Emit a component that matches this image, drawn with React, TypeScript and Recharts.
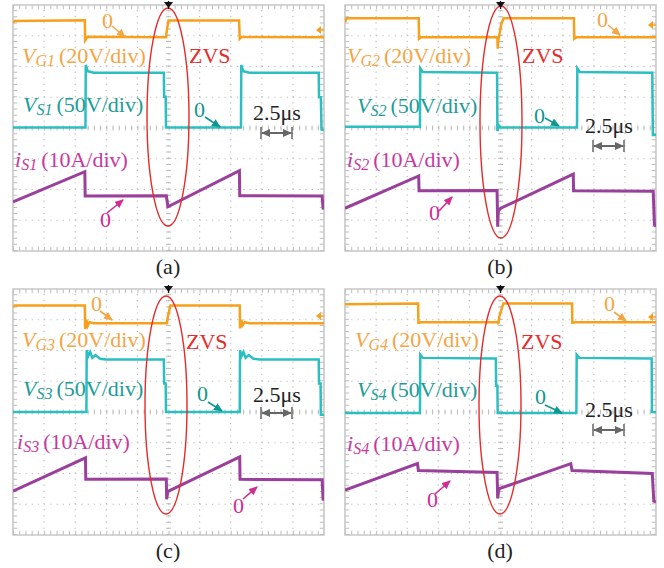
import { LineChart, Line, XAxis, YAxis, ReferenceLine, ReferenceArea } from 'recharts';

// waveform vertices, [time (div), level (div)]
const vG1 = [[0, 7.42], [0.05, 7.48], [2.31, 7.5], [2.32, 6.85], [2.4, 6.97], [4.92, 6.95], [4.95, 7.2], [5.0, 7.5], [7.27, 7.5], [7.29, 6.9], [7.35, 6.96], [10, 6.95]];
const vS1 = [[0, 4.02], [2.33, 4.02], [2.34, 6.05], [2.4, 5.85], [2.6, 5.8], [4.85, 5.8], [4.86, 5.02], [4.91, 5.02], [4.92, 4.02], [7.33, 4.02], [7.34, 6.05], [7.4, 5.85], [7.6, 5.8], [9.83, 5.8], [9.84, 5.0], [9.9, 5.0], [9.92, 3.95], [10, 3.93]];
const iS1 = [[0, 1.6], [2.31, 2.58], [2.32, 1.79], [4.93, 1.8], [4.95, 1.66], [4.98, 1.44], [7.28, 2.61], [7.29, 1.8], [9.94, 1.79], [9.97, 1.39], [10, 1.38]];

const vG2 = [[0, 7.45], [0.05, 7.57], [2.37, 7.57], [2.38, 6.9], [2.45, 6.95], [4.9, 6.95], [4.91, 6.58], [4.93, 6.85], [5.03, 7.4], [5.1, 7.57], [7.36, 7.57], [7.37, 6.9], [7.45, 6.95], [10, 6.95]];
const vS2 = [[0, 4.04], [2.41, 4.04], [2.42, 5.94], [2.5, 5.82], [4.89, 5.8], [4.9, 3.9], [4.95, 4.08], [5.0, 4.02], [7.46, 4.02], [7.47, 5.94], [7.55, 5.82], [9.88, 5.8], [9.9, 3.77], [10, 3.77]];
const iS2 = [[0, 1.39], [2.37, 2.44], [2.38, 1.96], [4.89, 1.97], [4.91, 0.79], [4.93, 1.3], [5.01, 1.39], [7.34, 2.5], [7.35, 1.96], [9.91, 1.94], [9.95, 0.85], [10, 0.8]];

const vG3 = [[0, 7.42], [0.05, 7.46], [2.31, 7.46], [2.32, 6.7], [2.36, 7.0], [2.4, 6.8], [2.46, 6.92], [2.6, 6.89], [4.95, 6.89], [4.98, 7.1], [5.06, 7.46], [7.29, 7.46], [7.3, 6.72], [7.34, 7.0], [7.38, 6.82], [7.45, 6.92], [7.6, 6.89], [10, 6.89]];
const vS3 = [[0, 4.0], [2.36, 4.0], [2.37, 6.01], [2.42, 5.82], [2.48, 5.95], [2.55, 5.76], [2.65, 5.85], [2.8, 5.73], [3.0, 5.71], [4.85, 5.71], [4.86, 4.93], [4.91, 4.93], [4.92, 4.0], [7.29, 4.0], [7.3, 6.01], [7.35, 5.82], [7.41, 5.95], [7.48, 5.76], [7.58, 5.85], [7.73, 5.73], [7.93, 5.71], [9.83, 5.71], [9.84, 4.93], [9.89, 4.93], [9.9, 3.91], [10, 3.91]];
const iS3 = [[0, 1.43], [2.33, 2.51], [2.34, 1.81], [4.93, 1.82], [4.94, 1.16], [4.97, 1.35], [5.0, 1.43], [7.29, 2.54], [7.3, 1.81], [9.94, 1.8], [9.97, 1.16], [10, 1.15]];

const vG4 = [[0, 7.5], [2.35, 7.53], [2.36, 6.9], [2.45, 6.92], [4.91, 6.92], [4.93, 6.86], [4.96, 7.1], [5.09, 7.53], [7.3, 7.53], [7.31, 6.9], [7.4, 6.92], [10, 6.92]];
const vS4 = [[0, 3.97], [2.41, 3.97], [2.42, 5.86], [2.5, 5.76], [4.85, 5.74], [4.86, 4.85], [4.9, 4.85], [4.91, 3.97], [7.44, 3.97], [7.45, 5.86], [7.53, 5.76], [9.86, 5.74], [9.87, 4.0], [10, 3.99]];
const iS4 = [[0, 1.46], [2.33, 2.32], [2.36, 2.1], [4.89, 2.03], [4.91, 1.19], [4.94, 1.45], [4.97, 1.51], [7.26, 2.32], [7.3, 2.1], [9.88, 2.0], [9.93, 1.1], [10, 1.08]];

const gridX = [1, 2, 3, 4, 5, 6, 7, 8, 9];
const gridY = [1, 2, 3, 4, 5, 6, 7];

const FONT = '"Liberation Serif", "Times New Roman", serif';
const ORANGE = '#f7a01c';
const ORANGE_TX = '#f5a544';
const CYAN = '#2bbfc1';
const TEAL_TX = '#1e9c98';
const TEAL_AR = '#10968f';
const PURPLE = '#9a3f9c';
const MAG_TX = '#c8399f';
const MAG_AR = '#d02c92';
const RED = '#e62b2b';
const GRID = '#bdbdbd';

const toPts = (a: number[][]) => a.map(([t, v]) => ({ t, v }));

type Ann = {
  o0: [number, number]; oAr: number[];
  vg: [number, number]; zvs: [number, number]; vs: [number, number];
  t0: [number, number]; tAr: number[];
  us: [number, number]; dbl: [number, number, number];
  is: [number, number];
  m0: [number, number]; mAr: number[];
  ell: number[]; mark: number;
};

const panels = [
  { key: 'a', n: '1', left: 0, top: 0, vg: vG1, vs: vS1, is: iS1,
    ann: { o0: [102, 28], oAr: [112, 26, 125, 37], vg: [22, 63], zvs: [189, 63], vs: [23, 112], t0: [194, 117], tAr: [205, 117, 220, 127],
      us: [253, 120], dbl: [261, 292, 133], is: [15, 167], m0: [100, 227], mAr: [107, 213, 123, 200], ell: [168, 117, 21, 109], mark: 30 } },
  { key: 'b', n: '2', left: 332, top: 0, vg: vG2, vs: vS2, is: iS2,
    ann: { o0: [265, 27], oAr: [276, 25, 288, 35], vg: [15, 63], zvs: [190, 63], vs: [25, 113], t0: [202, 123], tAr: [213, 118, 227, 126],
      us: [253, 133], dbl: [261, 292, 146], is: [15, 167], m0: [97, 220], mAr: [107, 211, 120, 197], ell: [169, 122, 21, 116], mark: 25 } },
  { key: 'c', n: '3', left: 0, top: 284, vg: vG3, vs: vS3, is: iS3,
    ann: { o0: [91, 27], oAr: [100, 27, 112, 36], vg: [22, 63], zvs: [186, 65], vs: [23, 112], t0: [197, 117], tAr: [208, 118, 222, 127],
      us: [253, 118], dbl: [261, 292, 129], is: [17, 165], m0: [233, 229], mAr: [243, 215, 257, 203], ell: [166, 121, 21, 109], mark: 32 } },
  { key: 'd', n: '4', left: 332, top: 284, vg: vG4, vs: vS4, is: iS4,
    ann: { o0: [272, 27], oAr: [282, 28, 294, 37], vg: [23, 63], zvs: [189, 65], vs: [25, 113], t0: [203, 120], tAr: [213, 121, 230, 129],
      us: [253, 133], dbl: [261, 292, 146], is: [15, 167], m0: [95, 223], mAr: [103, 210, 118, 197], ell: [168, 121, 21, 109], mark: 33 } },
];

function Label({ x, y, color, main, sub, rest }: { x: number; y: number; color: string; main: string; sub: string; rest: string }) {
  return (
    <text x={x} y={y} fontFamily={FONT} fontSize={22} fill={color}>
      <tspan fontStyle="italic">{main}</tspan>
      <tspan fontStyle="italic" fontSize={16} dy={3}>{sub}</tspan>
      <tspan dy={-3} dx={4}>{rest}</tspan>
    </text>
  );
}

function Notes({ id, n, a }: { id: string; n: string; a: Ann }) {
  const mk = (c: string) => `url(#ah-${id}-${c.slice(1)})`;
  const heads = [ORANGE_TX, TEAL_AR, MAG_AR, '#666666'];
  return (
    <svg width={332} height={284} style={{ position: 'absolute', left: 0, top: 0, pointerEvents: 'none' }}>
      <defs>
        {heads.map(c => (
          <marker key={c} id={`ah-${id}-${c.slice(1)}`} markerUnits="userSpaceOnUse" markerWidth={9} markerHeight={8} refX={8} refY={4} orient="auto-start-reverse">
            <path d="M0,0 L9,4 L0,8 Z" fill={c} />
          </marker>
        ))}
      </defs>
      <Label x={a.vg[0]} y={a.vg[1]} color={ORANGE_TX} main="V" sub={`G${n}`} rest="(20V/div)" />
      <Label x={a.vs[0]} y={a.vs[1]} color={TEAL_TX} main="V" sub={`S${n}`} rest="(50V/div)" />
      <Label x={a.is[0]} y={a.is[1]} color={MAG_TX} main="i" sub={`S${n}`} rest="(10A/div)" />
      <text x={a.zvs[0]} y={a.zvs[1]} fontFamily={FONT} fontSize={22} fill={RED}>ZVS</text>
      <text x={a.o0[0]} y={a.o0[1]} fontFamily={FONT} fontSize={22} fill={ORANGE_TX}>0</text>
      <line x1={a.oAr[0]} y1={a.oAr[1]} x2={a.oAr[2]} y2={a.oAr[3]} stroke={ORANGE_TX} strokeWidth={1.6} markerEnd={mk(ORANGE_TX)} />
      <text x={a.t0[0]} y={a.t0[1]} fontFamily={FONT} fontSize={22} fill={TEAL_AR}>0</text>
      <line x1={a.tAr[0]} y1={a.tAr[1]} x2={a.tAr[2]} y2={a.tAr[3]} stroke={TEAL_AR} strokeWidth={1.6} markerEnd={mk(TEAL_AR)} />
      <text x={a.m0[0]} y={a.m0[1]} fontFamily={FONT} fontSize={22} fill={MAG_AR}>0</text>
      <line x1={a.mAr[0]} y1={a.mAr[1]} x2={a.mAr[2]} y2={a.mAr[3]} stroke={MAG_AR} strokeWidth={1.6} markerEnd={mk(MAG_AR)} />
      <text x={a.us[0]} y={a.us[1]} fontFamily={FONT} fontSize={22} fill="#222">2.5μs</text>
      <line x1={a.dbl[0] + 1} y1={a.dbl[2]} x2={a.dbl[1] - 1} y2={a.dbl[2]} stroke="#666" strokeWidth={2} markerStart={mk('#666666')} markerEnd={mk('#666666')} />
      <line x1={a.dbl[0]} y1={a.dbl[2] - 6} x2={a.dbl[0]} y2={a.dbl[2] + 6} stroke="#666" strokeWidth={1.5} />
      <line x1={a.dbl[1]} y1={a.dbl[2] - 6} x2={a.dbl[1]} y2={a.dbl[2] + 6} stroke="#666" strokeWidth={1.5} />
      <ellipse cx={a.ell[0]} cy={a.ell[1]} rx={a.ell[2]} ry={a.ell[3]} fill="none" stroke={RED} strokeWidth={1.4} />
      {/* trigger marker + ch1 level marker */}
      <path d="M164,2 L173,2 L168.5,8 Z" fill="#111" />
      <line x1={168.5} y1={1} x2={168.5} y2={9} stroke="#111" strokeWidth={1.2} />
      <path d={`M316,${a.mark} L321,${a.mark - 4} L321,${a.mark + 4} Z`} fill={ORANGE} />
      <line x1={319} y1={a.mark} x2={324} y2={a.mark} stroke={ORANGE} strokeWidth={1.5} />
      <text x={168} y={274} textAnchor="middle" fontFamily={FONT} fontSize={22} fill="#222">({id})</text>
    </svg>
  );
}

function Scope({ p }: { p: typeof panels[number] }) {
  return (
    <div style={{ position: 'absolute', left: p.left, top: p.top, width: 332, height: 284 }}>
      <LineChart width={332} height={262} margin={{ top: 5, right: 8, bottom: 11, left: 13 }}>
        <XAxis type="number" dataKey="t" domain={[0, 10]} hide allowDataOverflow />
        <YAxis type="number" domain={[0, 8]} hide allowDataOverflow />
        {gridX.map(x => (
          <ReferenceLine key={`gx${x}`} x={x} stroke={GRID} strokeWidth={1.2} strokeDasharray="1.2 4.95" />
        ))}
        {gridY.map(y => (
          <ReferenceLine key={`gy${y}`} y={y} stroke={GRID} strokeWidth={1.2} strokeDasharray="1.2 5.02" />
        ))}
        <ReferenceLine x={5} stroke={GRID} strokeWidth={5} strokeDasharray="1 5.15" />
        <ReferenceLine y={4} stroke={GRID} strokeWidth={5} strokeDasharray="1 5.22" />
        <ReferenceLine x={0.07} stroke={GRID} strokeWidth={4} strokeDasharray="1 5.15" />
        <ReferenceLine x={9.93} stroke={GRID} strokeWidth={4} strokeDasharray="1 5.15" />
        <ReferenceLine y={0.07} stroke={GRID} strokeWidth={4} strokeDasharray="1 5.22" />
        <ReferenceLine y={7.93} stroke={GRID} strokeWidth={4} strokeDasharray="1 5.22" />
        <ReferenceArea x1={0} x2={10} y1={0} y2={8} fill="none" stroke="#c8c8c8" strokeWidth={1.6} />
        <Line data={toPts(p.vg)} dataKey="v" type="linear" stroke={ORANGE} strokeWidth={2.5} dot={false} isAnimationActive={false} />
        <Line data={toPts(p.vs)} dataKey="v" type="linear" stroke={CYAN} strokeWidth={2.5} dot={false} isAnimationActive={false} />
        <Line data={toPts(p.is)} dataKey="v" type="linear" stroke={PURPLE} strokeWidth={3} dot={false} isAnimationActive={false} />
      </LineChart>
      <Notes id={p.key} n={p.n} a={p.ann as Ann} />
    </div>
  );
}

export default function App() {
  return (
    <div style={{ position: 'fixed', left: 0, top: 0, width: 664, height: 568, background: '#fff' }}>
      {panels.map(p => <Scope key={p.key} p={p} />)}
    </div>
  );
}
